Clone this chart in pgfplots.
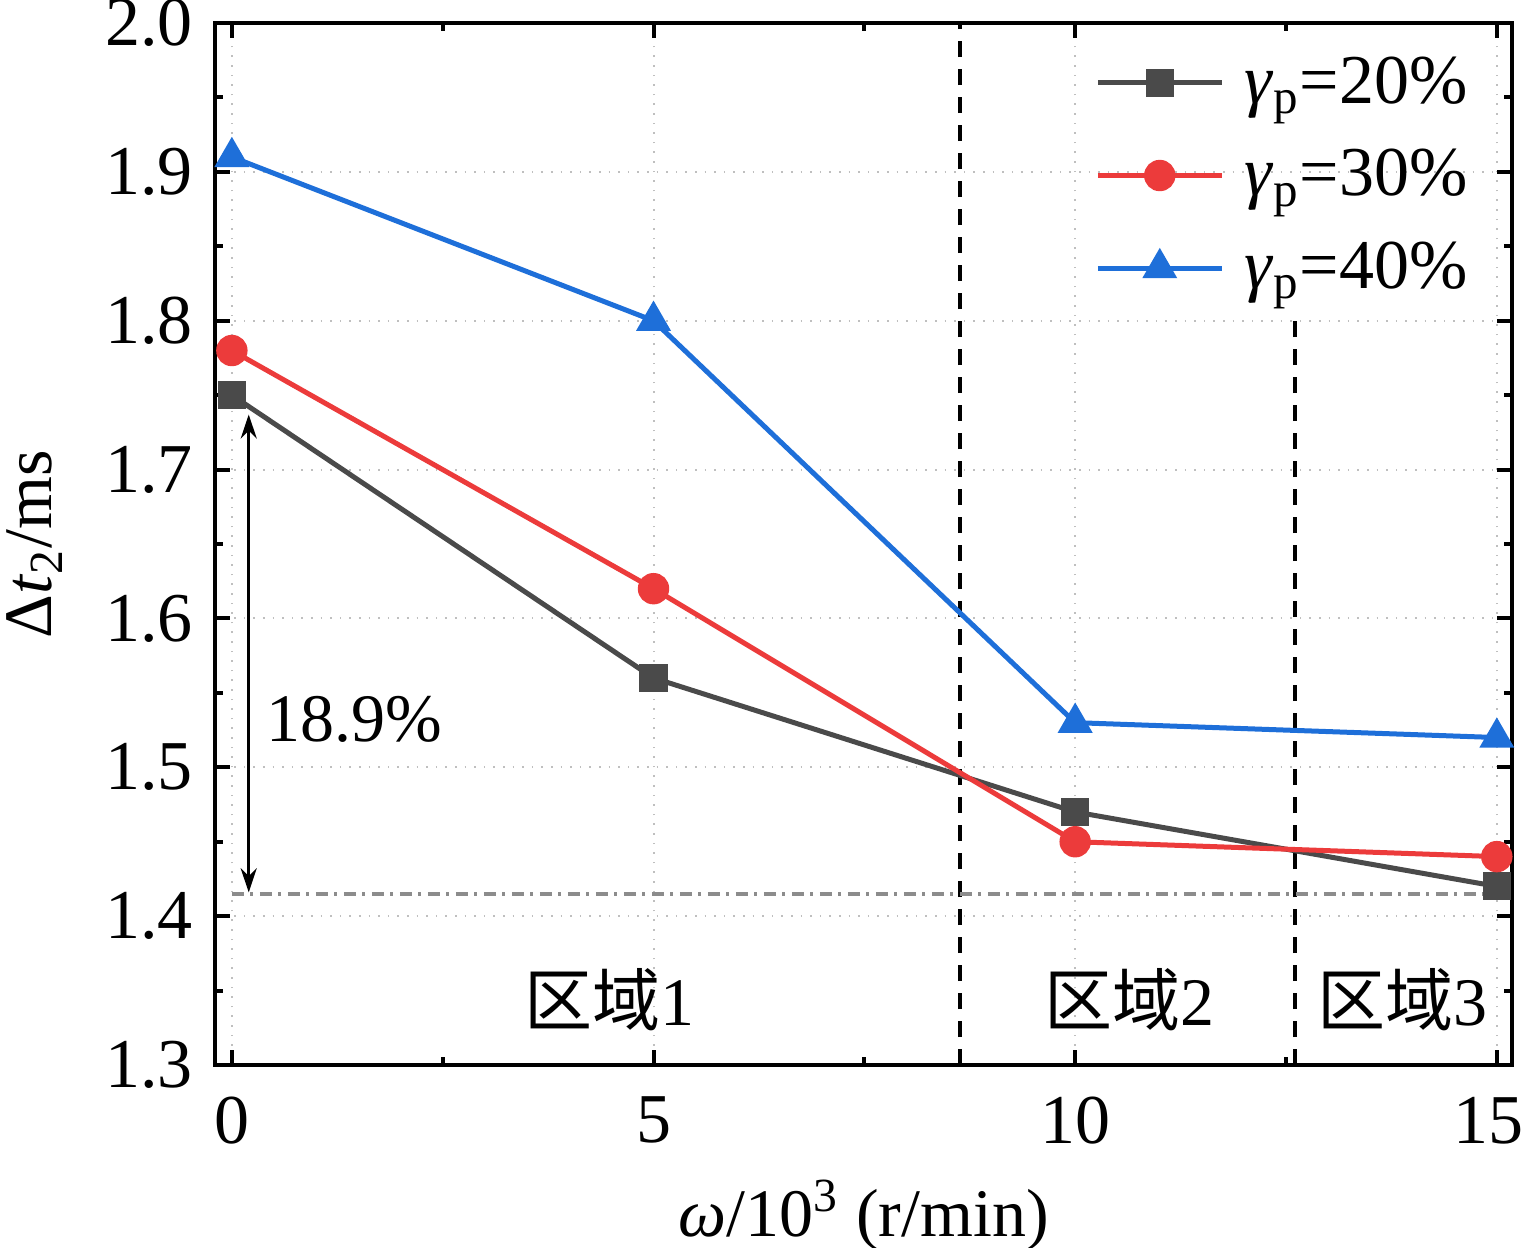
\documentclass[border=0pt]{standalone}
\usepackage{fontspec}
\setmainfont{Liberation Serif}
\newfontfamily\cjk{Noto Sans CJK SC}
\usepackage{pgfplots}
\pgfplotsset{compat=1.18}
\usetikzlibrary{arrows.meta}
\definecolor{cgray}{HTML}{4A4A4A}
\definecolor{cred}{HTML}{EC3B3B}
\definecolor{cblue}{HTML}{1E6FD9}
\begin{document}
\begin{tikzpicture}
\useasboundingbox (-53.75pt,-45.5pt) rectangle (326.5pt,266.25pt);
\begin{axis}[
  at={(0,0)}, anchor=south west,
  width=324.25pt, height=260.5pt, scale only axis,
  xmin=-0.2, xmax=15.18, ymin=1.3, ymax=2.0,
  xtick={0,5,10,15},
  xticklabels={0,5,10,{\hspace*{-4pt}15}},
  ytick={1.3,1.4,1.5,1.6,1.7,1.8,1.9,2.0},
  minor x tick num=1, minor y tick num=1,
  tick align=inside,
  major tick length=3.75pt, minor tick length=2pt,
  axis line style={line width=1pt},
  every tick/.style={black, line width=1pt},
  grid=major,
  major grid style={dotted, black!25, line width=0.5pt},
  /pgf/number format/assume math mode=true,
  ticklabel style={font=\fontsize{17.5}{20}\selectfont},
  yticklabel style={/pgf/number format/fixed, /pgf/number format/precision=1, /pgf/number format/fixed zerofill, xshift=-2pt},
  xticklabel style={yshift=-4.5pt},
  xlabel={\textit{ω}/10\textsuperscript{3} (r/min)},
  ylabel={Δ\textit{t}\textsubscript{2}/ms},
  label style={font=\fontsize{17}{20}\selectfont},
  xlabel style={at={(axis description cs:0.5,-0.144)}, anchor=center},
  ylabel style={at={(axis description cs:-0.139,0.5)}, anchor=center, rotate=0},
  legend style={draw=none, fill=none, at={(axis description cs:0.675,0.98)}, anchor=north west,
    font=\fontsize{17.5}{20}\selectfont, row sep=6pt, inner sep=1pt,
    /tikz/every odd column/.style={column sep=3pt}},
  legend cell align=left,
  legend image code/.code={\draw[mark repeat=2,mark phase=2] plot coordinates {(0pt,0pt) (15.5pt,0pt) (31pt,0pt)};},
]
\draw[black, line width=1pt, dash pattern=on 4pt off 3pt] (axis cs:8.64,1.3) -- (axis cs:8.64,2.0);
\draw[black, line width=1pt, dash pattern=on 4pt off 3pt] (axis cs:12.61,1.3) -- (axis cs:12.61,1.8);
\draw[black!45, line width=1pt, dash pattern=on 3pt off 1.6pt on 0.8pt off 1.6pt] (axis cs:0,1.415) -- (axis cs:15,1.415);
\draw[black, line width=0.8pt, {Stealth[length=6pt,width=4pt]}-{Stealth[length=6pt,width=4pt]}] (axis cs:0.2,1.737) -- (axis cs:0.2,1.416);
\node[font=\fontsize{17}{20}\selectfont] at (axis cs:1.45,1.532) {18.9\%};
\node[font=\fontsize{17}{20}\selectfont] at (axis cs:4.48,1.344) {{\cjk 区域}1};
\node[font=\fontsize{17}{20}\selectfont] at (axis cs:10.64,1.344) {{\cjk 区域}2};
\node[font=\fontsize{17}{20}\selectfont] at (axis cs:13.88,1.344) {{\cjk 区域}3};
\addplot[cgray, line width=1.25pt, mark=square*, mark size=2.9pt, mark options={solid}] coordinates {(0,1.75) (5,1.56) (10,1.47) (15,1.42)};
\addlegendentry{\textit{γ}\textsubscript{p}=20\%}
\addplot[cred, line width=1.25pt, mark=*, mark size=3.3pt] coordinates {(0,1.78) (5,1.62) (10,1.45) (15,1.44)};
\addlegendentry{\textit{γ}\textsubscript{p}=30\%}
\addplot[cblue, line width=1.25pt, mark=triangle*, mark size=3.8pt] coordinates {(0,1.91) (5,1.80) (10,1.53) (15,1.52)};
\addlegendentry{\textit{γ}\textsubscript{p}=40\%}
\end{axis}
\end{tikzpicture}
\end{document}
